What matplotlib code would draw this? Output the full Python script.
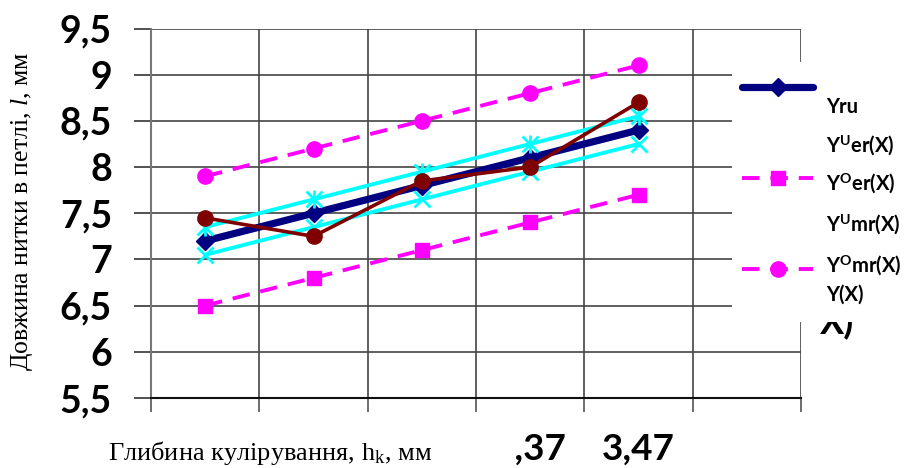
import matplotlib
matplotlib.use("Agg")
import matplotlib.pyplot as plt
from matplotlib.lines import Line2D
from matplotlib.patches import Rectangle

plt.rcParams['mathtext.fontset'] = 'custom'
plt.rcParams['mathtext.rm'] = 'Liberation Serif'
plt.rcParams['mathtext.it'] = 'Liberation Serif:italic'
plt.rcParams['mathtext.bf'] = 'Lato:bold'

# ---- data ----
categories = ["3,07", "3,17", "3,27", "3,37", "3,47"]
y_ru = [7.2, 7.5, 7.8, 8.1, 8.4]
y_u_er = [7.35, 7.65, 7.95, 8.25, 8.55]
y_o_er = [6.5, 6.8, 7.1, 7.4, 7.7]
y_u_mr = [7.05, 7.35, 7.65, 7.95, 8.25]
y_o_mr = [7.9, 8.2, 8.5, 8.8, 9.1]
y_x = [7.45, 7.25, 7.85, 8.0, 8.7]
y_ticks = [5.5, 6, 6.5, 7, 7.5, 8, 8.5, 9, 9.5]
y_tick_labels = ["5,5", "6", "6,5", "7", "7,5", "8", "8,5", "9", "9,5"]
legend_labels = ["Yru", r"Y$^{\mathbf{U}}$er(X)", r"Y$^{\mathbf{O}}$er(X)",
                 r"Y$^{\mathbf{U}}$mr(X)", r"Y$^{\mathbf{O}}$mr(X)", "Y(X)"]
ylabel = r"Довжина нитки в петлі, $\mathit{l}$, мм"
xlabel = r"Глибина кулірування, h$_{\mathrm{k}}$, мм"

W, H = 905, 468
fig = plt.figure(figsize=(W / 100, H / 100), dpi=100)
def fx(px): return px / W
def fy(py): return 1 - py / H

ax = fig.add_axes([fx(151), fy(398), fx(801) - fx(151), fy(28.5) - fy(398)])
x = list(range(len(categories)))

navy = '#000080'; cyan = '#00FFFF'; mag = '#FF00FF'; dred = '#800000'
dash = (0, (4.5, 2.8))

ax.plot(x, y_o_mr, color=mag, lw=2.8, ls=dash, marker='o', ms=11, zorder=3)
ax.plot(x, y_o_er, color=mag, lw=2.8, ls=dash, marker='s', ms=10.5, zorder=3)
ax.plot(x, y_ru, color=navy, lw=5.2, marker='D', ms=9, zorder=4,
        solid_capstyle='round')
ax.plot(x, y_u_er, color=cyan, lw=2.8, marker='x', ms=11, mew=2, zorder=5)
ax.plot(x, y_u_er, color=cyan, lw=0, marker='|', ms=13, mew=2, zorder=5)
ax.plot(x, y_u_mr, color=cyan, lw=2.8, marker='x', ms=11, mew=2, zorder=5)
ax.plot(x, y_x, color=dred, lw=2.6, marker='o', ms=11, zorder=6)

ax.set_xlim(-0.5, len(categories) + 0.5)
ax.set_ylim(5.5, 9.5)

# category axis: tick marks between categories, labels at centres
ax.set_xticks([i - 0.5 for i in range(len(categories) + 2)])
ax.set_xticklabels([])
ax.set_xticks(x, minor=True)
ax.set_xticklabels(categories, minor=True, fontfamily='Lato',
                   fontweight='bold', fontsize=26.5)
ax.tick_params(axis='x', which='minor', length=0, pad=25)
ax.tick_params(axis='x', which='major', length=10, width=1.2,
               color='#555555', direction='out')
# the first labels lie fully under the x-title box in the reference
for lab in ax.xaxis.get_minorticklabels()[:3]:
    lab.set_visible(False)
ax.set_yticks(y_ticks)
ax.set_yticklabels(y_tick_labels, fontfamily='Lato', fontweight='bold',
                   fontsize=27)
ax.tick_params(axis='y', length=12, width=1.2, color='#333333',
               direction='out', pad=16)

ax.grid(True, which='major', color='#444444', lw=1.2)
for s in ['top', 'right']:
    ax.spines[s].set_visible(False)
ax.spines['left'].set_color('#777777')
ax.spines['left'].set_linewidth(1.5)
ax.spines['bottom'].set_color('#111111')
ax.spines['bottom'].set_linewidth(1.5)
ax.set_axisbelow(True)

fig.text(fx(22), fy(211), ylabel, fontfamily='Liberation Serif', fontsize=18.5,
         rotation=90, ha='center', va='center')

# clipped leftover text under the legend
fig.text(fx(820), fy(334), "X)", fontfamily='Lato', fontweight='bold',
         fontsize=26, ha='left', va='baseline', zorder=4)

# white legend area
fig.patches.append(Rectangle((fx(732), fy(322)), 1 - fx(732), fy(62) - fy(322),
                             transform=fig.transFigure, facecolor='white',
                             edgecolor='none', zorder=5))

# white box behind the x title (hides the start of the category labels)
fig.patches.append(Rectangle((fx(95), 0), fx(515) - fx(95), fy(422),
                             transform=fig.transFigure, facecolor='white',
                             edgecolor='none', zorder=5))
fig.text(fx(270), fy(453), xlabel, fontfamily='Liberation Serif', fontsize=19,
         ha='center', va='center', zorder=6)

# legend markers
leg_marks = [(87, navy, '-', 'D', 9, 5.2), (178, mag, dash, 's', 10.5, 2.8),
             (269, mag, dash, 'o', 11, 2.8)]
for yy, c, ls, m, ms, lw in leg_marks:
    fig.add_artist(Line2D([fx(742), fx(813)], [fy(yy), fy(yy)], color=c, lw=lw,
                          ls=ls, solid_capstyle='round', zorder=7,
                          transform=fig.transFigure))
    fig.add_artist(Line2D([fx(778)], [fy(yy)], color=c, marker=m, ms=ms, lw=0,
                          zorder=7, transform=fig.transFigure))

leg_text_y = [107, 146, 184, 225, 266, 295]
for lab, yy in zip(legend_labels, leg_text_y):
    fig.text(fx(826), fy(yy), lab, fontfamily='Lato', fontweight='bold',
             fontsize=14.5, ha='left', va='center', zorder=7)

fig.savefig("out.png", dpi=100)
